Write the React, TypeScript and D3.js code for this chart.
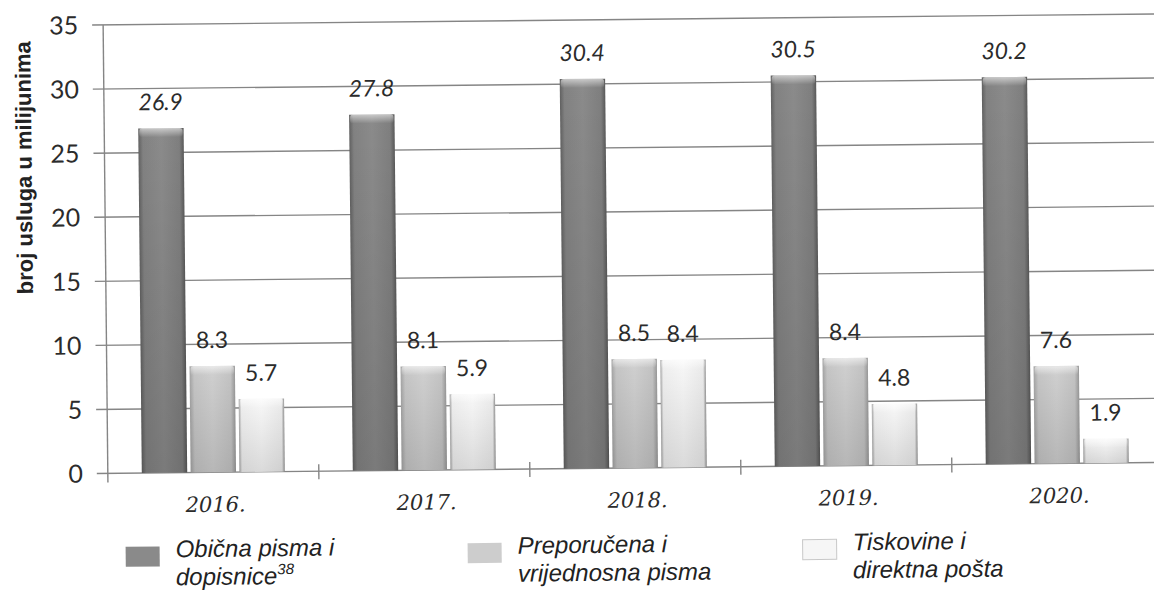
import React from 'react';
import * as d3 from 'd3';

const YEARS = ['2016.', '2017.', '2018.', '2019.', '2020.'];
const SERIES_KEYS = ['obicna', 'preporucena', 'tiskovine'];
const OBICNA = [26.9, 27.8, 30.4, 30.5, 30.2];
const PREPORUCENA = [8.3, 8.1, 8.5, 8.4, 7.6];
const TISKOVINE = [5.7, 5.9, 8.4, 4.8, 1.9];
const Y_TICKS = [0, 5, 10, 15, 20, 25, 30, 35];
const Y_TITLE = 'broj usluga u milijunima';
const LEGEND_LINES = [
  ['Obična pisma i', 'dopisnice'],
  ['Preporučena i', 'vrijednosna pisma'],
  ['Tiskovine i', 'direktna pošta'],
];
const LEGEND_SUP = ['38', '', ''];

const W = 1154;
const H = 594;

export default function App() {
  const values = [OBICNA, PREPORUCENA, TISKOVINE];
  const x0 = d3.scaleBand<string>().domain(YEARS).range([106, 1161]).padding(0);
  const x1 = d3
    .scaleBand<string>()
    .domain(SERIES_KEYS)
    .range([34, x0.bandwidth() - 34])
    .paddingInner(0.07)
    .paddingOuter(0);
  const y = d3.scaleLinear().domain([0, 35]).range([468.5, 20]);
  const fills = ['url(#gDark)', 'url(#gMid)', 'url(#gLight)'];
  const swatchFill = ['#8a8a8a', '#cdcdcd', '#f6f6f6'];
  const swatchStroke = ['none', 'none', '#c8c8c8'];
  const legendX = [123, 465, 800];
  const gridColor = '#858585';
  const textColor = '#2b2b2b';

  return (
    <svg
      width={W}
      height={H}
      viewBox={`0 0 ${W} ${H}`}
      style={{ position: 'absolute', left: 0, top: 0, background: '#ffffff' }}
    >
      <defs>
        <linearGradient id="gDark" x1="0" y1="0" x2="1" y2="0">
          <stop offset="0" stopColor="#616161" />
          <stop offset="0.1" stopColor="#828282" />
          <stop offset="0.5" stopColor="#8b8b8b" />
          <stop offset="0.9" stopColor="#7f7f7f" />
          <stop offset="1" stopColor="#595959" />
        </linearGradient>
        <linearGradient id="gMid" x1="0" y1="0" x2="1" y2="0">
          <stop offset="0" stopColor="#a4a4a4" />
          <stop offset="0.1" stopColor="#c6c6c6" />
          <stop offset="0.5" stopColor="#d0d0d0" />
          <stop offset="0.9" stopColor="#c4c4c4" />
          <stop offset="1" stopColor="#999999" />
        </linearGradient>
        <linearGradient id="gLight" x1="0" y1="0" x2="1" y2="0">
          <stop offset="0" stopColor="#a8a8a8" />
          <stop offset="0.06" stopColor="#f0f0f0" />
          <stop offset="0.5" stopColor="#f8f8f8" />
          <stop offset="0.94" stopColor="#ececec" />
          <stop offset="1" stopColor="#969696" />
        </linearGradient>
        <linearGradient id="gShade" x1="0" y1="0" x2="0" y2="1">
          <stop offset="0" stopColor="#000" stopOpacity="0" />
          <stop offset="1" stopColor="#000" stopOpacity="0.12" />
        </linearGradient>
        <linearGradient id="gBevel" x1="0" y1="0" x2="0" y2="1">
          <stop offset="0" stopColor="#fff" stopOpacity="0.55" />
          <stop offset="1" stopColor="#fff" stopOpacity="0" />
        </linearGradient>
      </defs>
      <rect x={0} y={0} width={W} height={H} fill="#ffffff" />
      <g transform="rotate(-0.6 577 297)">
        {Y_TICKS.map((t) => (
          <line
            key={'g' + t}
            x1={95}
            x2={1161}
            y1={y(t)}
            y2={y(t)}
            stroke={gridColor}
            strokeWidth={1.4}
          />
        ))}
        <line x1={106} x2={106} y1={y(35)} y2={y(0) + 9} stroke={gridColor} strokeWidth={1.4} />
        {YEARS.map((yr) => (
          <line
            key={'ct' + yr}
            x1={(x0(yr) as number) + x0.bandwidth()}
            x2={(x0(yr) as number) + x0.bandwidth()}
            y1={y(0) - 7}
            y2={y(0) + 8}
            stroke={gridColor}
            strokeWidth={1.4}
          />
        ))}
        {Y_TICKS.map((t) => (
          <text
            key={'tl' + t}
            x={81}
            y={y(t)}
            dy="0.36em"
            textAnchor="end"
            fontFamily="Lato, 'Open Sans', sans-serif"
            fontSize={25}
            fill={textColor}
          >
            {t}
          </text>
        ))}
        <text
          transform={`translate(33,162) rotate(-90)`}
          textAnchor="middle"
          fontFamily="'Liberation Sans', Arial, sans-serif"
          fontWeight="bold"
          fontSize={22}
          fill="#222"
        >
          {Y_TITLE}
        </text>
        {YEARS.map((yr, i) => (
          <g key={'grp' + yr}>
            {SERIES_KEYS.map((sk, s) => {
              const v = values[s][i];
              const bx = (x0(yr) as number) + (x1(sk) as number);
              const bw = x1.bandwidth();
              const by = y(v);
              const bh = y(0) - y(v);
              return (
                <g key={sk}>
                  <rect x={bx} y={by} width={bw} height={bh} fill={fills[s]} />
                  <rect x={bx} y={by} width={bw} height={bh} fill="url(#gShade)" />
                  <rect x={bx + 1} y={by} width={bw - 2} height={Math.min(9, bh)} rx={3} fill="url(#gBevel)" />
                  <text
                    x={bx + bw / 2}
                    y={by - 18}
                    textAnchor="middle"
                    fontFamily="Lato, 'Open Sans', sans-serif"
                    fontStyle={s === 0 ? 'italic' : 'normal'}
                    fontSize={23}
                    fill={textColor}
                  >
                    {v.toFixed(1)}
                  </text>
                </g>
              );
            })}
            <text
              x={(x0(yr) as number) + x0.bandwidth() / 2 + 2}
              y={508}
              textAnchor="middle"
              fontFamily="'DejaVu Serif', serif"
              fontStyle="italic"
              fontSize={21}
              fill={textColor}
            >
              {yr}
            </text>
          </g>
        ))}
        {LEGEND_LINES.map((lines, k) => (
          <g key={'lg' + k}>
            <rect
              x={legendX[k]}
              y={542}
              width={34}
              height={20}
              fill={swatchFill[k]}
              stroke={swatchStroke[k]}
              strokeWidth={1}
            />
            <text
              x={legendX[k] + 50}
              y={553}
              fontFamily="'Liberation Sans', Arial, sans-serif"
              fontStyle="italic"
              fontSize={24}
              fill="#222"
            >
              {lines[0]}
            </text>
            <text
              x={legendX[k] + 50}
              y={581}
              fontFamily="'Liberation Sans', Arial, sans-serif"
              fontStyle="italic"
              fontSize={24}
              fill="#222"
            >
              {lines[1]}
              {LEGEND_SUP[k] ? (
                <tspan fontSize={15} dy={-10}>
                  {LEGEND_SUP[k]}
                </tspan>
              ) : null}
            </text>
          </g>
        ))}
      </g>
    </svg>
  );
}
